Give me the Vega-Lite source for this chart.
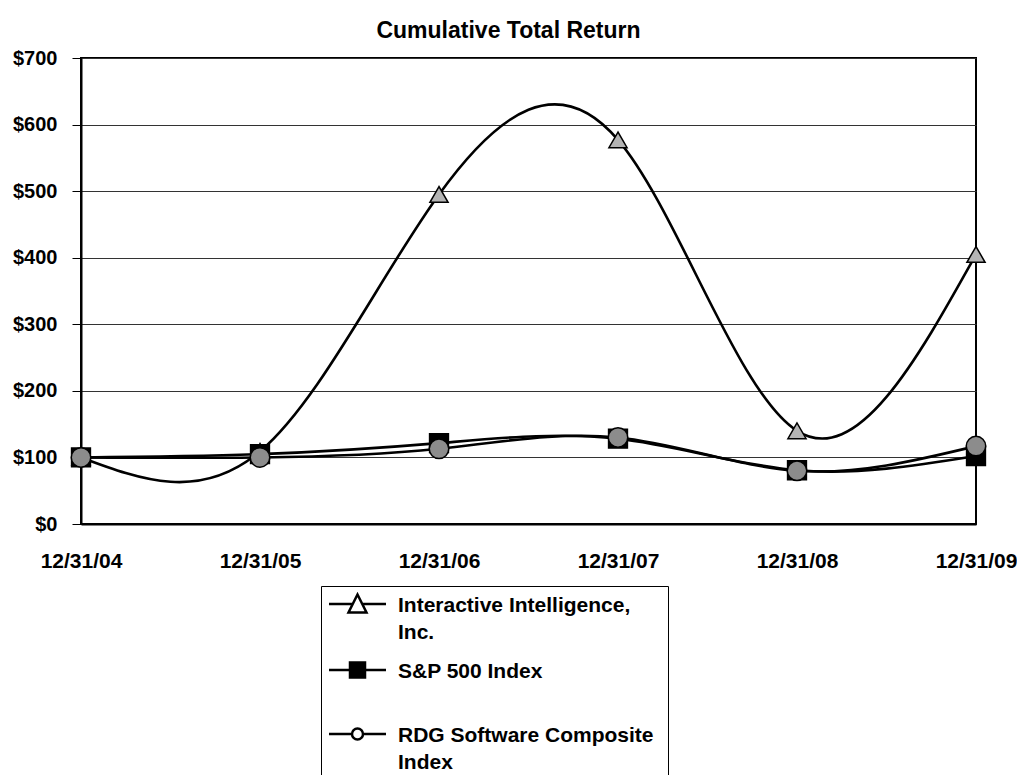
{
  "$schema": "https://vega.github.io/schema/vega-lite/v6.json",
  "autosize": {"type": "none"},
  "width": 895,
  "height": 466,
  "padding": {"left": 81, "top": 58, "right": 41, "bottom": 251},
  "background": "white",
  "config": {
    "font": "Liberation Sans",
    "view": {"stroke": "black", "strokeWidth": 2},
    "style": {"guide-label": {"lineHeight": 27}},
    "legend": {"symbolBaseFillColor": "#a8a8a8"}
  },
  "title": {
    "text": "Cumulative Total Return",
    "fontSize": 23,
    "fontWeight": "bold",
    "font": "Liberation Sans",
    "color": "black",
    "offset": 5,
    "dx": -20
  },
  "data": {
    "values": [
      {"series": "Interactive Intelligence, Inc.", "date": "12/31/04", "value": 100},
      {"series": "Interactive Intelligence, Inc.", "date": "12/31/05", "value": 109},
      {"series": "Interactive Intelligence, Inc.", "date": "12/31/06", "value": 495},
      {"series": "Interactive Intelligence, Inc.", "date": "12/31/07", "value": 577},
      {"series": "Interactive Intelligence, Inc.", "date": "12/31/08", "value": 140},
      {"series": "Interactive Intelligence, Inc.", "date": "12/31/09", "value": 405},
      {"series": "S&P 500 Index", "date": "12/31/04", "value": 100},
      {"series": "S&P 500 Index", "date": "12/31/05", "value": 104.91},
      {"series": "S&P 500 Index", "date": "12/31/06", "value": 121.48},
      {"series": "S&P 500 Index", "date": "12/31/07", "value": 128.16},
      {"series": "S&P 500 Index", "date": "12/31/08", "value": 80.74},
      {"series": "S&P 500 Index", "date": "12/31/09", "value": 102.11},
      {"series": "RDG Software Composite Index", "date": "12/31/04", "value": 100},
      {"series": "RDG Software Composite Index", "date": "12/31/05", "value": 100},
      {"series": "RDG Software Composite Index", "date": "12/31/06", "value": 113},
      {"series": "RDG Software Composite Index", "date": "12/31/07", "value": 130},
      {"series": "RDG Software Composite Index", "date": "12/31/08", "value": 80},
      {"series": "RDG Software Composite Index", "date": "12/31/09", "value": 117}
    ]
  },
  "encoding": {
    "x": {
      "field": "date",
      "type": "ordinal",
      "scale": {"type": "point", "padding": 0},
      "axis": {
        "title": null,
        "labelAngle": 0,
        "labelFontSize": 21,
        "labelFontWeight": "bold",
        "labelColor": "black",
        "labelPadding": 26,
        "tickSize": 0,
        "domainColor": "black",
        "domainWidth": 2
      }
    },
    "y": {
      "field": "value",
      "type": "quantitative",
      "scale": {"domain": [0, 700], "nice": false},
      "axis": {
        "title": null,
        "values": [0, 100, 200, 300, 400, 500, 600, 700],
        "labelExpr": "'$' + datum.value",
        "labelFontSize": 20,
        "labelFontWeight": "bold",
        "labelColor": "black",
        "labelPadding": 15,
        "tickSize": 9,
        "tickColor": "black",
        "tickWidth": 1,
        "domainColor": "black",
        "domainWidth": 2,
        "grid": true,
        "gridColor": "#333333",
        "gridWidth": 1,
        "gridOpacity": 1
      }
    }
  },
  "layer": [
    {
      "mark": {"type": "line", "interpolate": "natural", "color": "black", "strokeWidth": 2.6},
      "encoding": {"detail": {"field": "series"}}
    },
    {
      "mark": {"type": "point", "filled": true, "stroke": "black", "strokeWidth": 1.5, "opacity": 1},
      "encoding": {
        "fill": {
          "field": "series",
          "type": "nominal",
          "scale": {
            "domain": ["Interactive Intelligence, Inc.", "S&P 500 Index", "RDG Software Composite Index"],
            "range": ["#b4b4b4", "#000000", "#8c8c8c"]
          },
          "legend": null
        },
        "shape": {
          "field": "series",
          "type": "nominal",
          "scale": {
            "domain": ["Interactive Intelligence, Inc.", "S&P 500 Index", "RDG Software Composite Index"],
            "range": ["triangle-up", "square", "circle"]
          },
          "legend": null
        },
        "size": {
          "field": "series",
          "type": "nominal",
          "scale": {
            "domain": ["Interactive Intelligence, Inc.", "S&P 500 Index", "RDG Software Composite Index"],
            "range": [330, 380, 260]
          },
          "legend": null
        }
      }
    },
    {
      "mark": {"type": "point", "filled": true, "stroke": "black", "strokeWidth": 2, "opacity": 0},
      "encoding": {
        "fill": {
          "field": "series",
          "type": "nominal",
          "scale": {
            "domain": ["Interactive Intelligence, Inc.", "S&P 500 Index", "RDG Software Composite Index"],
            "range": ["#b4b4b4", "#000000", "#8c8c8c"]
          },
          "legend": {
            "title": null,
            "orient": "none",
            "legendX": 240,
            "legendY": 528,
            "direction": "vertical",
            "padding": 14,
            "strokeColor": "black",
            "fillColor": "white",
            "symbolSize": 400,
            "symbolOpacity": 1,
            "symbolStrokeWidth": 2.5,
            "symbolStrokeColor": "black",
            "symbolOffset": 11,
            "labelOffset": 29,
            "labelFontSize": 21,
            "labelFontWeight": "bold",
            "labelColor": "black",
            "labelLimit": 400,
            "labelBaseline": "alphabetic",
            "rowPadding": 14,
            "labelExpr": "datum.label == 'Interactive Intelligence, Inc.' ? ['Interactive Intelligence,', 'Inc.'] : datum.label == 'RDG Software Composite Index' ? ['RDG Software Composite', 'Index'] : [datum.label, ' ']"
          }
        },
        "shape": {
          "field": "series",
          "type": "nominal",
          "scale": {
            "domain": ["Interactive Intelligence, Inc.", "S&P 500 Index", "RDG Software Composite Index"],
            "range": [
              "M-2.85,-0.75H-0.5M0.5,-0.75H2.85M0,-1.7L0.9,0.1H-0.9Z",
              "M-2.85,-0.75H2.85M-0.75,-1.5H0.75V0H-0.75ZM-0.75,-1.25H0.75M-0.75,-1H0.75M-0.75,-0.5H0.75M-0.75,-0.25H0.75",
              "M-2.85,-0.75H-0.55M0.55,-0.75H2.85M0.55,-0.75A0.55,0.55,0,1,1,-0.55,-0.75A0.55,0.55,0,1,1,0.55,-0.75Z"
            ]
          }
        }
      }
    }
  ],
  "resolve": {
    "scale": {"fill": "independent", "shape": "independent", "size": "independent"},
    "legend": {"fill": "independent", "shape": "independent", "size": "independent"}
  }
}
